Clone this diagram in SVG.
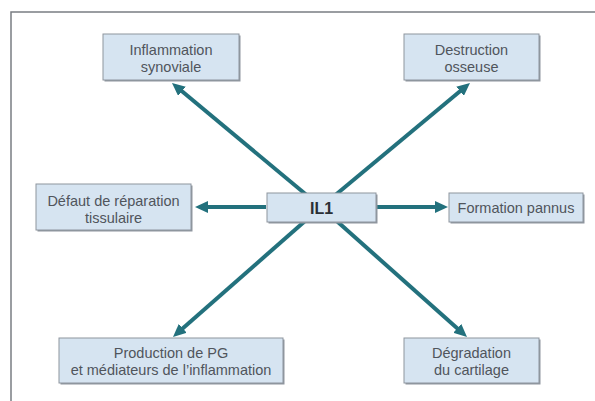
<svg xmlns="http://www.w3.org/2000/svg" width="595" height="401" viewBox="0 0 595 401">
<style>
.box{fill:#d6e4f1;stroke:#8e959e;stroke-width:1}
.shadow{fill:#8f969f}
.t{font-family:"Liberation Sans",Arial,sans-serif;font-size:14.5px;fill:#50555c;text-anchor:middle}
.b{font-family:"Liberation Sans",Arial,sans-serif;font-size:16px;font-weight:bold;fill:#2b2f35;text-anchor:middle}
.c{stroke:#23717d;stroke-width:4;fill:none;marker-end:url(#ah)}
.frame{stroke:#7a7d82;stroke-width:1.5;fill:none}
</style>
<defs>
<marker id="ah" markerUnits="userSpaceOnUse" viewBox="0 0 13 12" markerWidth="13" markerHeight="12" refX="7" refY="6" orient="auto">
<path d="M0,0 L13,6 L0,12 z" fill="#23717d"/>
</marker>
</defs>
<rect width="595" height="401" fill="#ffffff"/>
<path class="frame" d="M11,401 V12 H595"/>
<g id="connectors">
<line class="c" x1="321" y1="207" x2="176.6" y2="86.8"/>
<line class="c" x1="321" y1="207" x2="465.4" y2="86.8"/>
<line class="c" x1="321" y1="207" x2="177.5" y2="333"/>
<line class="c" x1="321" y1="207" x2="462.5" y2="333"/>
<line class="c" x1="266" y1="207" x2="201" y2="207"/>
<line class="c" x1="377" y1="207" x2="442" y2="207"/>
</g>
<g id="node-inflammation">
<rect class="shadow" x="104.5" y="35.5" width="136" height="46"/>
<rect class="box" x="103" y="34" width="136" height="46"/>
<text class="t" x="171" y="55">Inflammation</text>
<text class="t" x="171" y="71.5">synoviale</text>
</g>
<g id="node-destruction">
<rect class="shadow" x="405.5" y="35.5" width="135" height="46"/>
<rect class="box" x="404" y="34" width="135" height="46"/>
<text class="t" x="471.5" y="55">Destruction</text>
<text class="t" x="471.5" y="71.5">osseuse</text>
</g>
<g id="node-defaut">
<rect class="shadow" x="37.5" y="185.5" width="155" height="46"/>
<rect class="box" x="36" y="184" width="155" height="46"/>
<text class="t" x="113.5" y="206">Défaut de réparation</text>
<text class="t" x="113.5" y="222.5">tissulaire</text>
</g>
<g id="node-il1">
<rect class="shadow" x="268.5" y="194.5" width="109" height="29"/>
<rect class="box" x="267" y="193" width="109" height="29"/>
<text class="b" x="321.5" y="213.5">IL1</text>
</g>
<g id="node-pannus">
<rect class="shadow" x="450.5" y="194.5" width="134" height="29"/>
<rect class="box" x="449" y="193" width="134" height="29"/>
<text class="t" x="516" y="213">Formation pannus</text>
</g>
<g id="node-production">
<rect class="shadow" x="60.5" y="339.5" width="224" height="45"/>
<rect class="box" x="59" y="338" width="224" height="45"/>
<text class="t" x="171" y="358">Production de PG</text>
<text class="t" x="171" y="374.5">et médiateurs de l’inflammation</text>
</g>
<g id="node-degradation">
<rect class="shadow" x="405.5" y="339.5" width="135" height="45"/>
<rect class="box" x="404" y="338" width="135" height="45"/>
<text class="t" x="471.5" y="358">Dégradation</text>
<text class="t" x="471.5" y="374.5">du cartilage</text>
</g>
</svg>
